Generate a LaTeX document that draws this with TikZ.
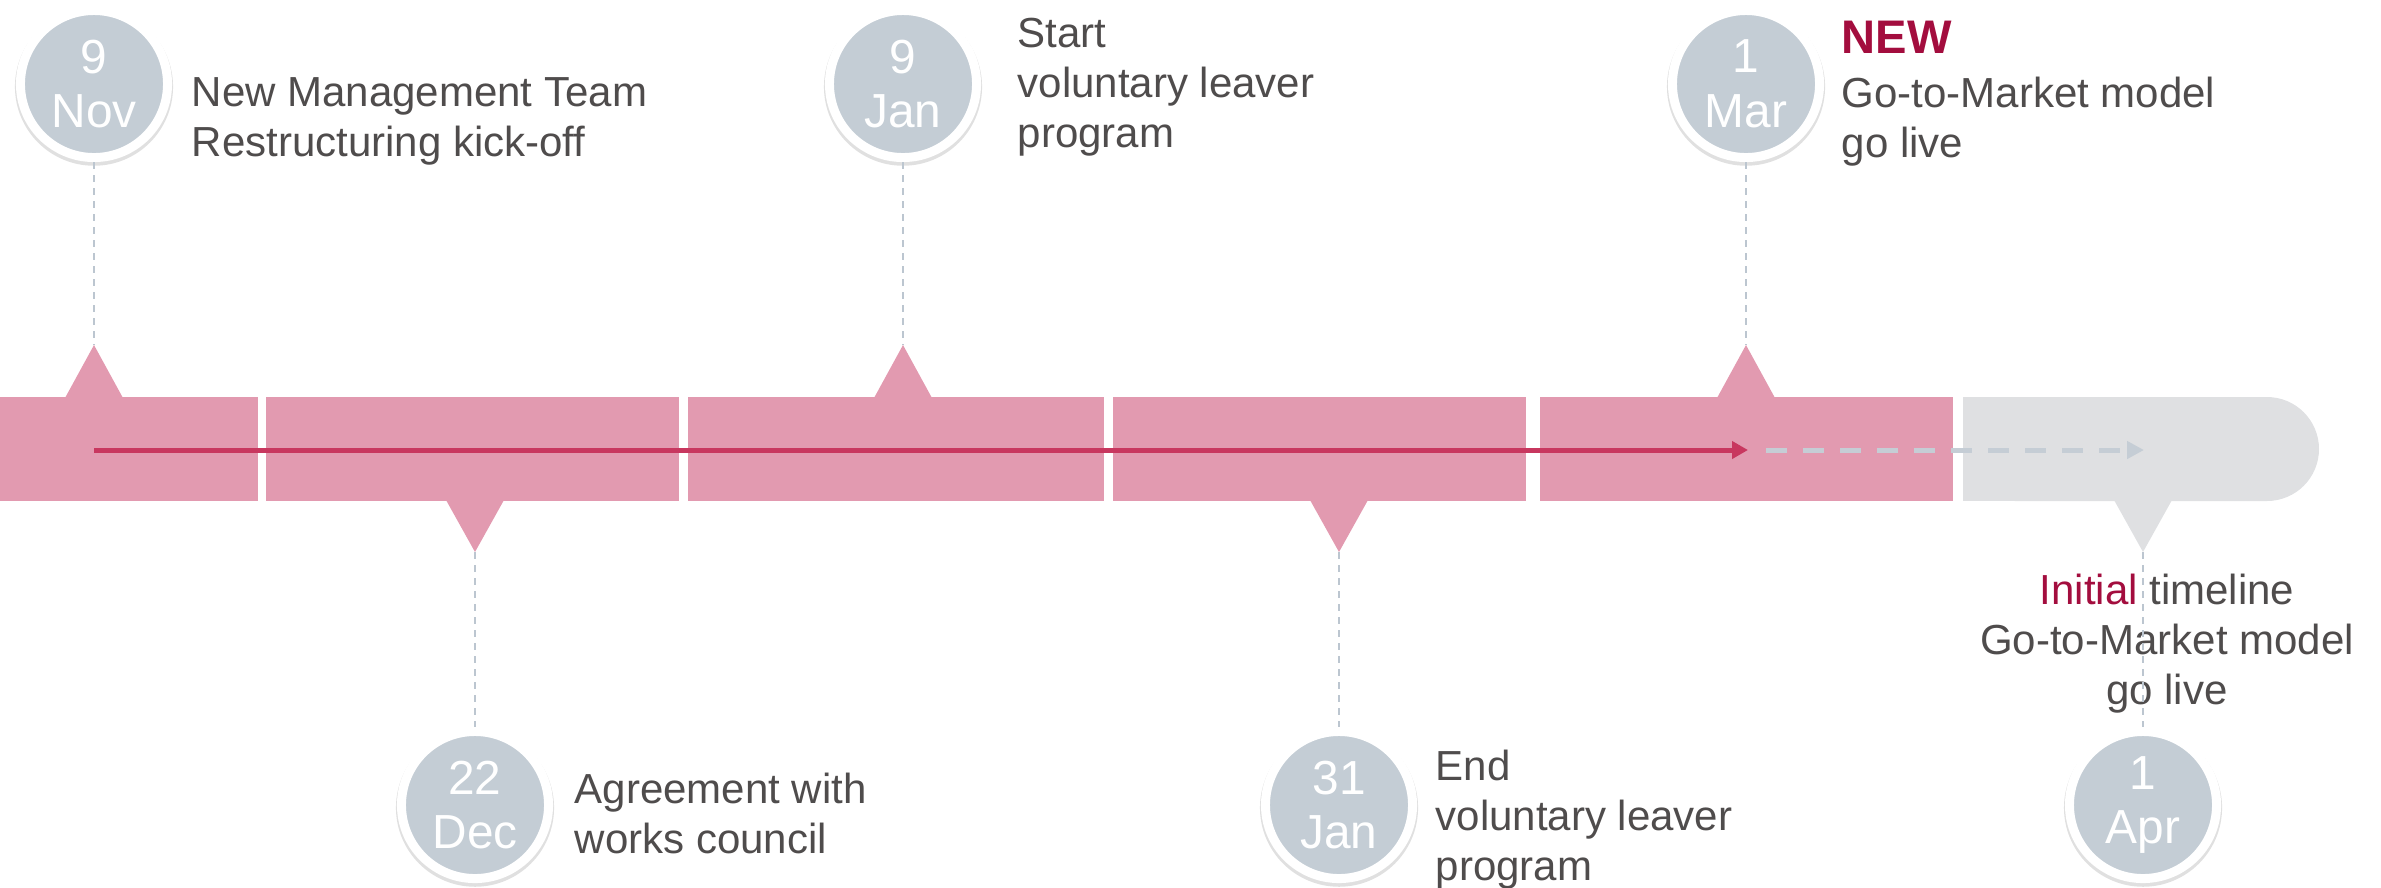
\documentclass[tikz,border=0pt]{standalone}
\usepackage{fontspec}
\setmainfont{Liberation Sans}
\usetikzlibrary{arrows.meta,shadows}
\definecolor{pinkbar}{HTML}{E29AB0}
\definecolor{arrowpink}{HTML}{C8375F}
\definecolor{greybar}{HTML}{DFE0E2}
\definecolor{dashgrey}{HTML}{C5CDD5}
\definecolor{datefill}{HTML}{C4CDD5}
\definecolor{txtgrey}{HTML}{4F4C4C}
\definecolor{newred}{HTML}{A30D3E}
\definecolor{connc}{HTML}{BCC6D0}
\newcommand{\lines}[1]{\begin{tabular}[t]{@{}l@{}}#1\end{tabular}}
\newcommand{\clines}[1]{\begin{tabular}[t]{@{}c@{}}#1\end{tabular}}
\tikzset{
  datec/.style={circle, minimum size=1.47cm, inner sep=0pt, fill=datefill,
    draw=white, line width=0.09cm, text=white, align=center,
    font=\fontsize{13.6}{15.6}\selectfont,
    drop shadow={shadow scale=1.075, shadow xshift=0cm, shadow yshift=-0.025cm, opacity=0.12, fill=black}},
  lbl/.style={inner sep=0pt, anchor=base west, text=txtgrey,
    font=\fontsize{11.95}{14.23}\selectfont},
  clbl/.style={lbl, anchor=base},
  conn/.style={draw=connc, line width=0.45pt, dash pattern=on 2pt off 1.7pt},
  block/.style={fill=pinkbar},
  tri/.style={fill=pinkbar},
  mainarrow/.style={draw=arrowpink, line width=0.05cm, -{Triangle[length=0.16cm,width=0.17cm]}},
  planarrow/.style={draw=dashgrey, line width=0.05cm, dash pattern=on 0.21cm off 0.16cm,
    -{Triangle[length=0.17cm,width=0.17cm]}},
}
\begin{document}
\begin{tikzpicture}[x=0.01cm, y=-0.01cm]
\useasboundingbox (0,0) rectangle (2381,887);
% bar blocks
\fill[block] (0,397) rectangle (258,501);
\fill[block] (266,397) rectangle (679,501);
\fill[block] (688,397) rectangle (1104,501);
\fill[block] (1113,397) rectangle (1526,501);
\fill[block] (1540,397) rectangle (1953,501);
\fill[greybar, rounded corners=0.52cm] (1963,397) rectangle (2319,501);
\fill[greybar] (1963,397) rectangle (2200,501);
% triangles
\coordinate (a1) at (94,345);
\coordinate (a2) at (903,345);
\coordinate (a3) at (1746,345);
\coordinate (a4) at (475,552);
\coordinate (a5) at (1339,552);
\coordinate (a6) at (2143,552);
\fill[tri] (65,398) -- (a1) -- (123,398) -- cycle;
\fill[tri] (874,398) -- (a2) -- (932,398) -- cycle;
\fill[tri] (1717,398) -- (a3) -- (1775,398) -- cycle;
\fill[tri] (446,500) -- (a4) -- (504,500) -- cycle;
\fill[tri] (1310,500) -- (a5) -- (1368,500) -- cycle;
\fill[greybar] (2114,500) -- (a6) -- (2172,500) -- cycle;
% arrows
\coordinate (s1) at (94,450);
\coordinate (e1) at (1748,450);
\coordinate (s2) at (1766,450);
\coordinate (e2) at (2144,450);
\draw[mainarrow] (s1) -- (e1);
\draw[planarrow] (s2) -- (e2);
% date circles
\node[datec] (c1) at (94,84) {9\\Nov};
\node[datec] (c2) at (903,84) {9\\Jan};
\node[datec] (c3) at (1746,84) {1\\Mar};
\node[datec] (c4) at (475,805) {22\\Dec};
\node[datec] (c5) at (1339,805) {31\\Jan};
\node[datec] (c6) at (2143,805) {1\\Apr};
% labels
\node[lbl] (t1) at (191,106) {\lines{New Management Team\\Restructuring kick-off}};
\node[lbl] (t2) at (1017,47) {\lines{Start\\voluntary leaver\\program}};
\node[lbl] (t3) at (1841,53) {\lines{{\fontsize{13.4}{14.23}\selectfont\bfseries\color{newred}NEW}\\[0.04cm]Go-to-Market model\\go live}};
\node[lbl] (t4) at (574,803) {\lines{Agreement with\\works council}};
\node[lbl] (t5) at (1435,780) {\lines{End\\voluntary leaver\\program}};
\node[clbl] (t6) at (2167,604) {\clines{{\color{newred}Initial} timeline\\Go-to-Market model\\go live}};
% connectors
\draw[conn] (c1.south) -- (a1);
\draw[conn] (c2.south) -- (a2);
\draw[conn] (c3.south) -- (a3);
\draw[conn] (a4) -- (c4.north);
\draw[conn] (a5) -- (c5.north);
\draw[conn] (a6) -- (c6.north);
\end{tikzpicture}
\end{document}
